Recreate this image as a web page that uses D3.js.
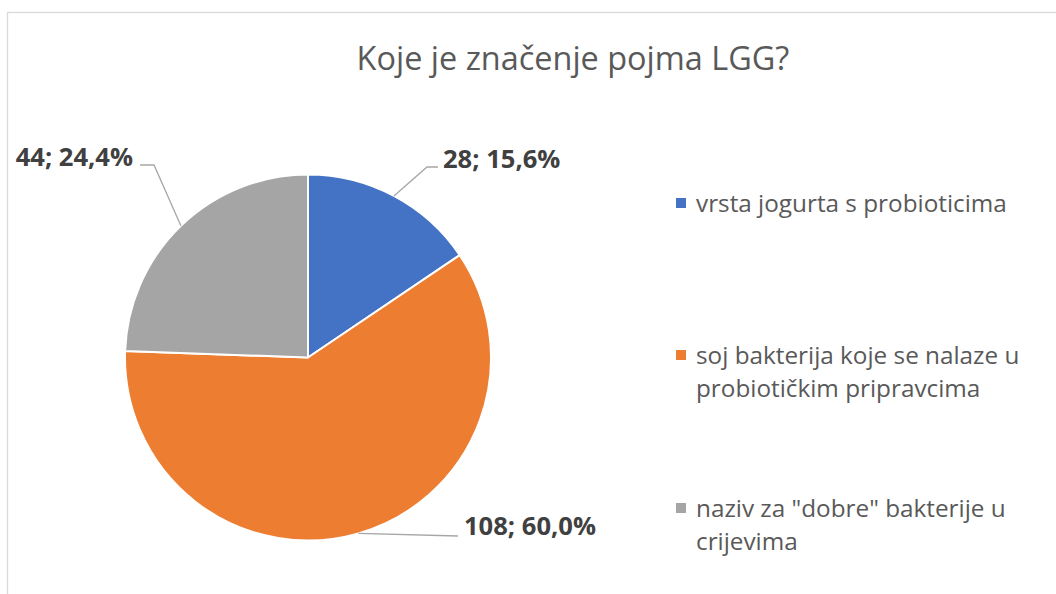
<!DOCTYPE html>
<html><head><meta charset="utf-8">
<script src="https://cdn.jsdelivr.net/npm/d3@7"></script>
<style>body{margin:0;background:#fff}svg{display:block}</style>
</head><body>
<svg id="c" width="1056" height="594"></svg>
<script>
const title = "Koje je značenje pojma LGG?";
const categories = ["vrsta jogurta s probioticima", "soj bakterija koje se nalaze u probiotičkim pripravcima", "naziv za \"dobre\" bakterije u crijevima"];
const legendLines = [["vrsta jogurta s probioticima"], ["soj bakterija koje se nalaze u", "probiotičkim pripravcima"], ["naziv za \"dobre\" bakterije u", "crijevima"]];
const values = [28, 108, 44];
const colors = ["#4472C4", "#ED7D31", "#A5A5A5"];

// layout (not data)
const cx = 308, cy = 357.5, R = 183;
const labelLayout = [
  {elbow: [427, 167], end: [438, 167], tx: 443, ty: 168, anchor: "start"},
  {elbow: null, end: [458, 536], tx: 464, ty: 535, anchor: "start"},
  {elbow: [154, 165], end: [140, 165], tx: 133, ty: 166, anchor: "end"}
];
const legendY = [212, 364, 517];

const svg = d3.select("#c");
const font = "'Open Sans', Lato, sans-serif";
function fit(sel, target, base) {
  const w = sel.node().getComputedTextLength();
  sel.attr("font-size", base * target / w);
}
svg.append("rect").attr("x", 7.5).attr("y", 12.5).attr("width", 1060).attr("height", 600)
  .attr("fill", "#fff").attr("stroke", "#d9d9d9").attr("stroke-width", 1.3);

const tt = svg.append("text").attr("x", 573).attr("y", 70).attr("text-anchor", "middle")
  .attr("font-family", font).attr("font-size", 28).attr("fill", "#595959").text(title);
fit(tt, 433, 28);

const total = d3.sum(values);
const pie = d3.pie().sort(null).value(d => d);
const arcs = pie(values);
const arc = d3.arc().innerRadius(0).outerRadius(R);
const g = svg.append("g").attr("transform", `translate(${cx},${cy})`);
g.selectAll("path").data(arcs).join("path")
  .attr("d", arc).attr("fill", (d, i) => colors[i])
  .attr("stroke", "#fff").attr("stroke-width", 2).attr("stroke-linejoin", "round");

const fmt = v => (v * 100).toFixed(1).replace(".", ",") + "%";
let lblSize = null;
arcs.forEach((a, i) => {
  const m = (a.startAngle + a.endAngle) / 2;
  const p0 = [cx + R * Math.sin(m), cy - R * Math.cos(m)];
  const L = labelLayout[i];
  const pts = [p0];
  if (L.elbow) pts.push(L.elbow);
  pts.push(L.end);
  svg.append("path").attr("d", d3.line()(pts)).attr("fill", "none")
    .attr("stroke", "#a6a6a6").attr("stroke-width", 1.3);
  const t = svg.append("text").attr("x", L.tx).attr("y", L.ty).attr("text-anchor", L.anchor)
    .attr("font-family", font).attr("font-weight", "bold").attr("font-size", 24)
    .attr("fill", "#404040").text(values[i] + "; " + fmt(values[i] / total));
  if (i === 1) { lblSize = 24 * 132 / t.node().getComputedTextLength(); }
});
svg.selectAll("text[font-weight=bold]").attr("font-size", lblSize);

let legSize = null;
legendLines.forEach((lines, i) => {
  svg.append("rect").attr("x", 676).attr("y", legendY[i] - 14).attr("width", 10).attr("height", 10)
    .attr("fill", colors[i]);
  const t = svg.append("text").attr("class", "leg").attr("font-family", font).attr("font-size", 20).attr("fill", "#595959");
  lines.forEach((ln, j) => t.append("tspan").attr("x", 696).attr("y", legendY[i] + j * 33).text(ln));
  if (i === 0) legSize = 20 * 311 / t.node().getComputedTextLength();
});
svg.selectAll("text.leg").attr("font-size", legSize);
</script>
</body></html>
